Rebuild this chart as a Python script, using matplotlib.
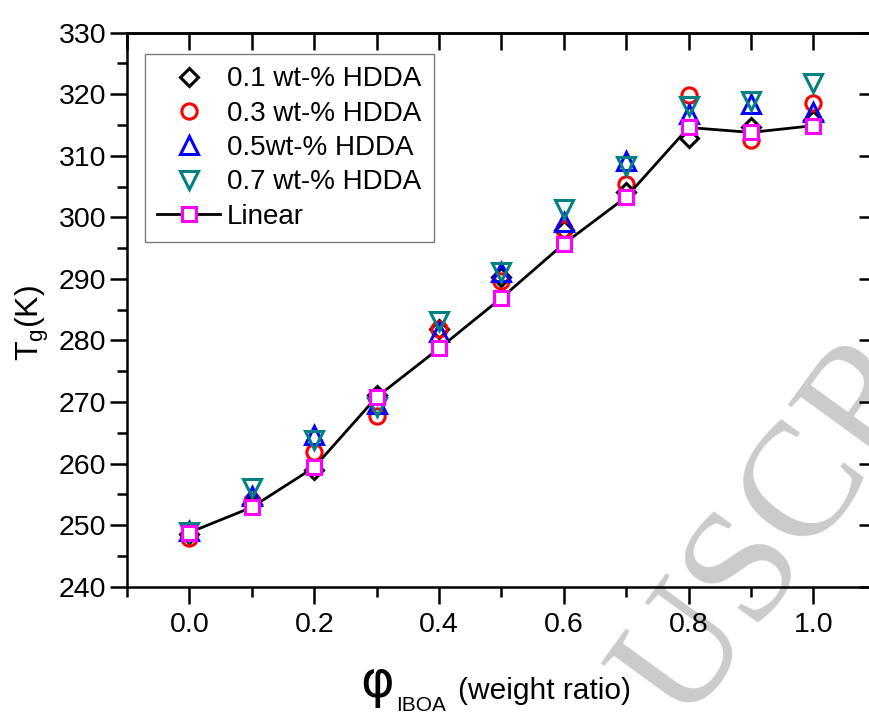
import matplotlib

matplotlib.use('Agg')
import matplotlib.pyplot as plt
from matplotlib.ticker import MultipleLocator

plt.rcParams['font.family'] = ['Liberation Sans', 'DejaVu Sans']

# IBOA weight ratio
phi = [0.0, 0.1, 0.2, 0.3, 0.4, 0.5, 0.6, 0.7, 0.8, 0.9, 1.0]

# Tg (K)
tg_01 = [248.5, 253.5, 258.9, 271.1, 281.8, 290.3, 297.9, 304.1, 312.9, 314.7, 315.8]
tg_03 = [247.9, 254.0, 261.9, 267.8, 281.9, 289.7, 298.1, 305.4, 319.8, 312.5, 318.5]
tg_05 = [249.0, 254.8, 264.6, 269.7, 281.3, 291.1, 299.2, 309.2, 316.8, 318.4, 317.1]
tg_07 = [248.9, 256.1, 263.8, 269.2, 283.2, 291.1, 301.4, 308.4, 318.1, 318.9, 321.8]
tg_linear = [248.8, 252.9, 259.4, 270.8, 278.7, 286.9, 295.7, 303.3, 314.6, 313.8, 314.9]

labels = ["0.1 wt-% HDDA", "0.3 wt-% HDDA", "0.5wt-% HDDA", "0.7 wt-% HDDA", "Linear"]

fig = plt.figure(figsize=(8.69, 7.15), dpi=100)
ax = fig.add_axes([127 / 869, 1 - 586.7 / 715, 748.8 / 869, 554 / 715])
ax.set_facecolor('none')

mew = 2.2
ax.plot(phi, tg_01, ls='none', marker='D', ms=9, mfc='none', mec='black', mew=mew, label=labels[0])
ax.plot(phi, tg_03, ls='none', marker='o', ms=11, mfc='none', mec='#ff0000', mew=mew, label=labels[1])
ax.plot(phi, tg_05, ls='none', marker='^', ms=13, mfc='none', mec='#0000ff', mew=mew, label=labels[2])
ax.plot(phi, tg_07, ls='none', marker='v', ms=13, mfc='none', mec='#008080', mew=mew, label=labels[3])
ax.plot(phi, tg_linear, color='black', lw=2.0, marker='s', ms=9.5, mfc='white', mec='#ff00ff',
        mew=mew, label=labels[4])

ax.set_xlim(-0.1, 1.1)
ax.set_ylim(240, 330)
ax.xaxis.set_major_locator(MultipleLocator(0.2))
ax.xaxis.set_minor_locator(MultipleLocator(0.1))
ax.yaxis.set_major_locator(MultipleLocator(10))
ax.yaxis.set_minor_locator(MultipleLocator(5))
ax.xaxis.set_major_formatter(lambda v, p: f"{v:.1f}")

for s in ax.spines.values():
    s.set_linewidth(1.8)
ax.tick_params(which='both', direction='out', width=1.8, labelsize=20.5, top=False, right=False)
ax.tick_params(which='major', length=12)
ax.tick_params(which='minor', length=7)
ax.tick_params(axis='x', pad=6)
ax.tick_params(axis='y', pad=3)

# top and right axes: inward ticks, no labels
top = ax.secondary_xaxis('top')
top.xaxis.set_major_locator(MultipleLocator(0.1))
top.tick_params(direction='in', length=12, width=1.8, labeltop=False)
top.spines['top'].set_linewidth(1.8)
right = ax.secondary_yaxis('right')
right.yaxis.set_major_locator(MultipleLocator(10))
right.tick_params(direction='in', length=12, width=1.8, labelright=False)
right.spines['right'].set_linewidth(1.8)

leg = ax.legend(loc='upper left', bbox_to_anchor=(0.024, 0.9616), borderaxespad=0,
                fontsize=20, frameon=True, fancybox=False, edgecolor='0.35',
                handlelength=2.25, handletextpad=0.25, labelspacing=0.3, borderpad=0.45)
leg.get_frame().set_linewidth(1.0)

# axis titles
fig.text(32 / 869, 1 - 323 / 715, r'T$_\mathregular{g}$(K)', rotation=90, fontsize=23,
         ha='center', va='center')
fig.text(360 / 869, 1 - 697 / 715, 'φ', family='DejaVu Sans', fontsize=37, ha='left', va='baseline')
fig.text(396 / 869, 1 - 711 / 715, 'IBOA', fontsize=15, ha='left', va='baseline')
fig.text(458 / 869, 1 - 699 / 715, '(weight ratio)', fontsize=21.5, ha='left', va='baseline')

# watermark of the source page
fig.text(0.895, 0.26, 'USCR', family='Liberation Serif', fontsize=118, color='#cbcbcb',
         rotation=54, rotation_mode='anchor', ha='center', va='center', zorder=-1)

fig.savefig('out.png', dpi=100)
